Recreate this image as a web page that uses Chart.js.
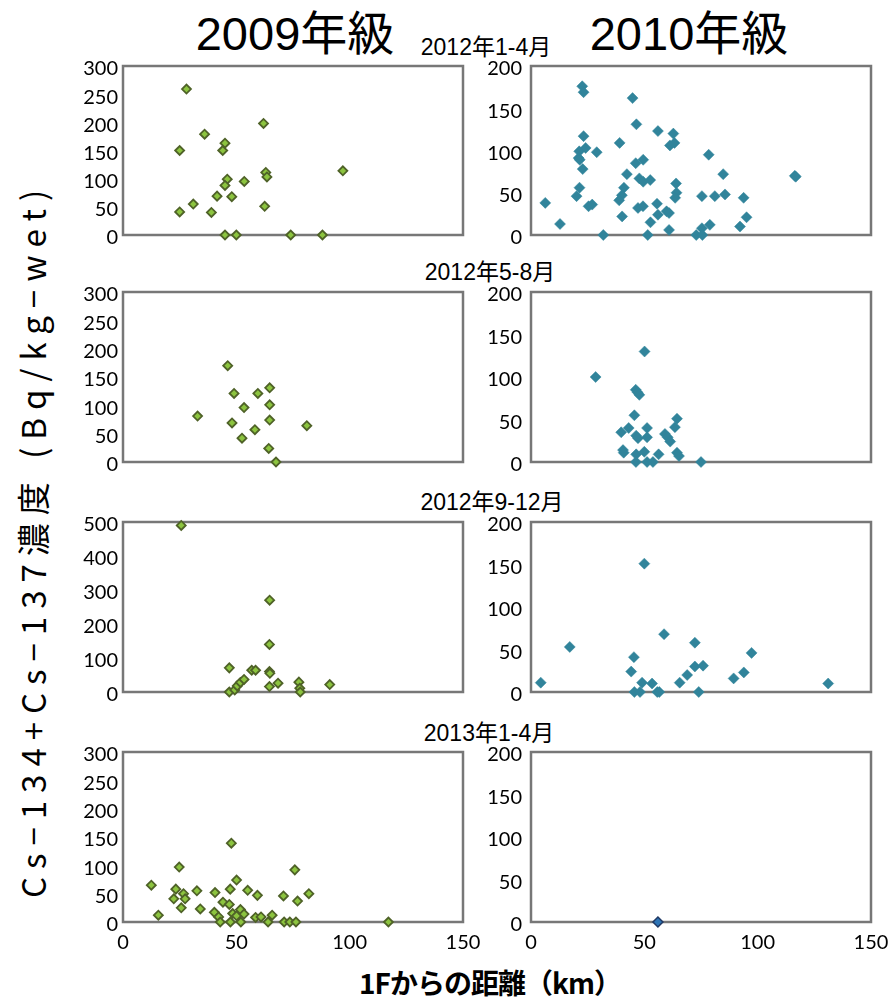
<!DOCTYPE html>
<html>
<head>
<meta charset="utf-8">
<script src="https://cdn.jsdelivr.net/npm/chart.js@4"></script>
<style>
  body { margin: 0; background: #fff; width: 891px; height: 1000px; position: relative; overflow: hidden;
         font-family: "Liberation Sans", "Noto Sans CJK JP", sans-serif; }
  .box { position: absolute; }
  .t { position: absolute; white-space: nowrap; color: #000; transform: translate(-50%, -50%); line-height: 1; }
</style>
</head>
<body>
<div class="t" style="left:295px;top:33px;font-size:47px;">2009年級</div>
<div class="t" style="left:689px;top:33px;font-size:47px;">2010年級</div>
<div class="t" style="left:486px;top:47px;font-size:23px;">2012年1-4月</div>
<div class="t" style="left:490px;top:272px;font-size:23px;">2012年5-8月</div>
<div class="t" style="left:492px;top:502px;font-size:23px;">2012年9-12月</div>
<div class="t" style="left:489px;top:733px;font-size:23px;">2013年1-4月</div>
<div class="t" style="left:490px;top:982px;font-size:28px;font-weight:bold;font-family:'Noto Sans CJK JP';letter-spacing:-1px;">1Fからの距離（km）</div>
<div class="t" style="left:32px;top:540px;font-size:33px;font-family:'Noto Sans CJK JP';letter-spacing:8px;transform:translate(-50%,-50%) rotate(-90deg);">Cs−134+Cs−137濃度 (Bq/kg−wet)</div>

<script>
// 2009年級 / 2010年級, 4 periods
const x09a = [28, 62, 36, 45, 25, 44, 97, 63, 63.5, 46, 53.5, 45, 41.5, 48, 31, 25, 39, 62.5, 45, 50, 74, 88];
const y09a = [259, 198, 179, 163, 150, 150, 114, 111, 103, 99, 95, 88, 69, 68, 55, 41, 40, 51, 0, 0, 0, 0];

const x10a = [6.3, 12.8, 22.6, 23.2, 23.2, 21.3, 24.1, 21, 21.5, 22.8, 29, 21.4, 20.1, 25.4, 27, 31.9, 39.1, 44.8, 46.5, 42.3,
  41, 40.1, 38.9, 40.2, 46.2, 49.5, 47.8, 49.5, 52.6, 47.2, 49.4, 51.5, 52.7, 55.6, 56, 56, 59.8, 60.9, 60.9, 61.3,
  62.8, 63.3, 64, 64.2, 63.6, 72.9, 75.4, 75.6, 75.4, 78.4, 78.9, 81.1, 85.6, 84.8, 92.2, 93.8, 95.1, 116.4, 116.8];
const y10a = [38, 13, 176, 169, 117, 99, 103, 91, 89, 78, 98, 56, 46, 34, 36, 0, 109, 162, 131, 72,
  56, 47, 41, 22, 85, 89, 67, 63, 65, 32, 34, 0, 15, 37, 24, 123, 28, 26, 6, 106,
  120, 109, 61, 50, 44, 0, 8, 0, 46, 95, 12, 46, 48, 72, 10, 44, 21, 70, 69];

const x09b = [46.2, 49, 59.5, 64.7, 64.7, 53.4, 32.9, 48.1, 64.7, 81.1, 58.2, 52.5, 64.3, 67.5];
const y09b = [170, 121, 121, 131, 101, 96, 81, 69, 74, 64, 57, 42, 24, 0];

const x10b = [28.5, 50.1, 46.2, 47, 47.8, 45.6, 39.8, 43.1, 46.4, 47.2, 51.2, 51.2, 59.1, 60.3, 61.4, 64.4, 63.5, 40.6, 40.9, 46.4,
  50, 56.3, 64.4, 65.3, 46.3, 51.2, 53.8, 75];
const y10b = [100, 130, 85, 82, 79, 55, 35, 40, 31, 28, 40, 29, 33, 29, 24, 51, 41, 14, 11, 9,
  12, 9, 11, 7, 0, 0, 0, 0];

const x09c = [25.7, 64.7, 64.6, 46.9, 56.8, 58.5, 64.6, 64.8, 68.4, 64.6, 77.6, 78, 78.2, 91.2, 46.9, 49.3, 50.4, 51.8, 53.4];
const y09c = [490, 270, 140, 71, 64, 64, 60, 55, 26, 16, 29, 11, 0, 22, 0, 6, 18, 28, 37];

const x10c = [4.3, 17.1, 50, 58.7, 72.3, 45.4, 44.2, 49, 53.4, 45.6, 48.1, 55.7, 56.6, 65.6, 68.9, 72.3, 75.9, 74, 89.4, 93.9, 97.3, 131.1];
const y10c = [11, 53, 151, 68, 58, 41, 24, 11, 10, 0, 0, 0, 0, 11, 20, 30, 31, 0, 16, 23, 46, 10];

const x09d = [12.5, 15.6, 24.8, 23.3, 22.4, 26.7, 27.4, 25.7, 32.6, 34.1, 40.6, 40.3, 42.2, 44.1, 42.9, 47.8, 47.3, 46.9, 50.1, 48.4,
  50.1, 51.8, 53.4, 52, 47.4, 55, 59.3, 58.5, 60.9, 64, 65.8, 70.8, 71.1, 73.6, 76.3, 75.8, 77, 82, 117.1];
const y09d = [65, 12, 97, 58, 41, 50, 41, 25, 55, 23, 52, 17, 9, 35, 0, 139, 58, 31, 74, 15,
  11, 22, 14, 0, 0, 56, 47, 8, 9, 0, 12, 46, 0, 0, 0, 92, 37, 50, 0];

const x10d = [56];
const y10d = [0];

const xTicks = [0, 50, 100, 150];

const green = { bg: "#8cc43f", border: "#4f6228", r: 4.5, bw: 1.8 };
const teal = { bg: "#31849b", border: "#31849b", r: 5.5, bw: 0.5 };
const navy = { bg: "#2e75b6", border: "#1f3864", r: 5, bw: 1.5 };

// 枠線
const frame = {
  id: "frame",
  beforeDatasetsDraw(chart) {
    const { ctx, chartArea: a } = chart;
    ctx.save();
    ctx.strokeStyle = "#777";
    ctx.lineWidth = 2.5;
    ctx.strokeRect(a.left, a.top, a.right - a.left, a.bottom - a.top);
    ctx.restore();
  },
};

function makePanel(left, top, w, h, xs, ys, ymax, step, style, bottom, tickPad) {
  const padTop = 12, padRight = 22, axisW = 60, xAxisH = 44;
  const cw = w + axisW + padRight;
  const ch = h + padTop + (bottom ? xAxisH : 12);
  const div = document.createElement("div");
  div.className = "box";
  div.style.left = (left - axisW) + "px";
  div.style.top = (top - padTop) + "px";
  const canvas = document.createElement("canvas");
  canvas.width = cw;
  canvas.height = ch;
  div.appendChild(canvas);
  document.body.appendChild(div);

  new Chart(canvas, {
    type: "scatter",
    data: {
      datasets: [{
        data: xs.map((x, i) => ({ x: x, y: ys[i] })),
        pointStyle: "rectRot",
        pointRadius: style.r,
        pointBackgroundColor: style.bg,
        pointBorderColor: style.border,
        pointBorderWidth: style.bw,
        clip: false,
      }],
    },
    options: {
      responsive: false,
      animation: false,
      devicePixelRatio: 1,
      layout: { padding: { left: 0, top: padTop, right: padRight, bottom: bottom ? 0 : 12 } },
      plugins: { legend: { display: false }, tooltip: { enabled: false } },
      scales: {
        x: {
          type: "linear",
          min: 0,
          max: 150,
          display: bottom,
          grid: { display: false, drawTicks: false },
          border: { display: false },
          afterBuildTicks: (s) => { s.ticks = xTicks.map((v) => ({ value: v })); },
          ticks: { padding: 9, color: "#000", font: { family: "Lato", size: 20 }, maxRotation: 0, autoSkip: false },
          afterFit: (s) => { s.height = bottom ? xAxisH : 0; s.paddingLeft = 0; s.paddingRight = 0; },
        },
        y: {
          min: 0,
          max: ymax,
          grid: { display: false, drawTicks: false },
          border: { display: false },
          ticks: { stepSize: step, padding: tickPad, labelOffset: 3, color: "#000", font: { family: "Lato", size: 20 }, autoSkip: false },
          afterFit: (s) => { s.width = axisW; s.paddingTop = 0; s.paddingBottom = 0; },
        },
      },
    },
    plugins: [frame],
  });
}

const L = 123, R = 531, W = 340;
makePanel(L, 66, W, 169, x09a, y09a, 300, 50, green, false, 5);
makePanel(R, 66, W, 169, x10a, y10a, 200, 50, teal, false, 9);
makePanel(L, 292, W, 170, x09b, y09b, 300, 50, green, false, 5);
makePanel(R, 292, W, 170, x10b, y10b, 200, 50, teal, false, 9);
makePanel(L, 522, W, 170, x09c, y09c, 500, 100, green, false, 5);
makePanel(R, 522, W, 170, x10c, y10c, 200, 50, teal, false, 9);
makePanel(L, 752, W, 170, x09d, y09d, 300, 50, green, true, 5);
makePanel(R, 752, W, 170, x10d, y10d, 200, 50, navy, true, 9);
</script>
</body>
</html>
